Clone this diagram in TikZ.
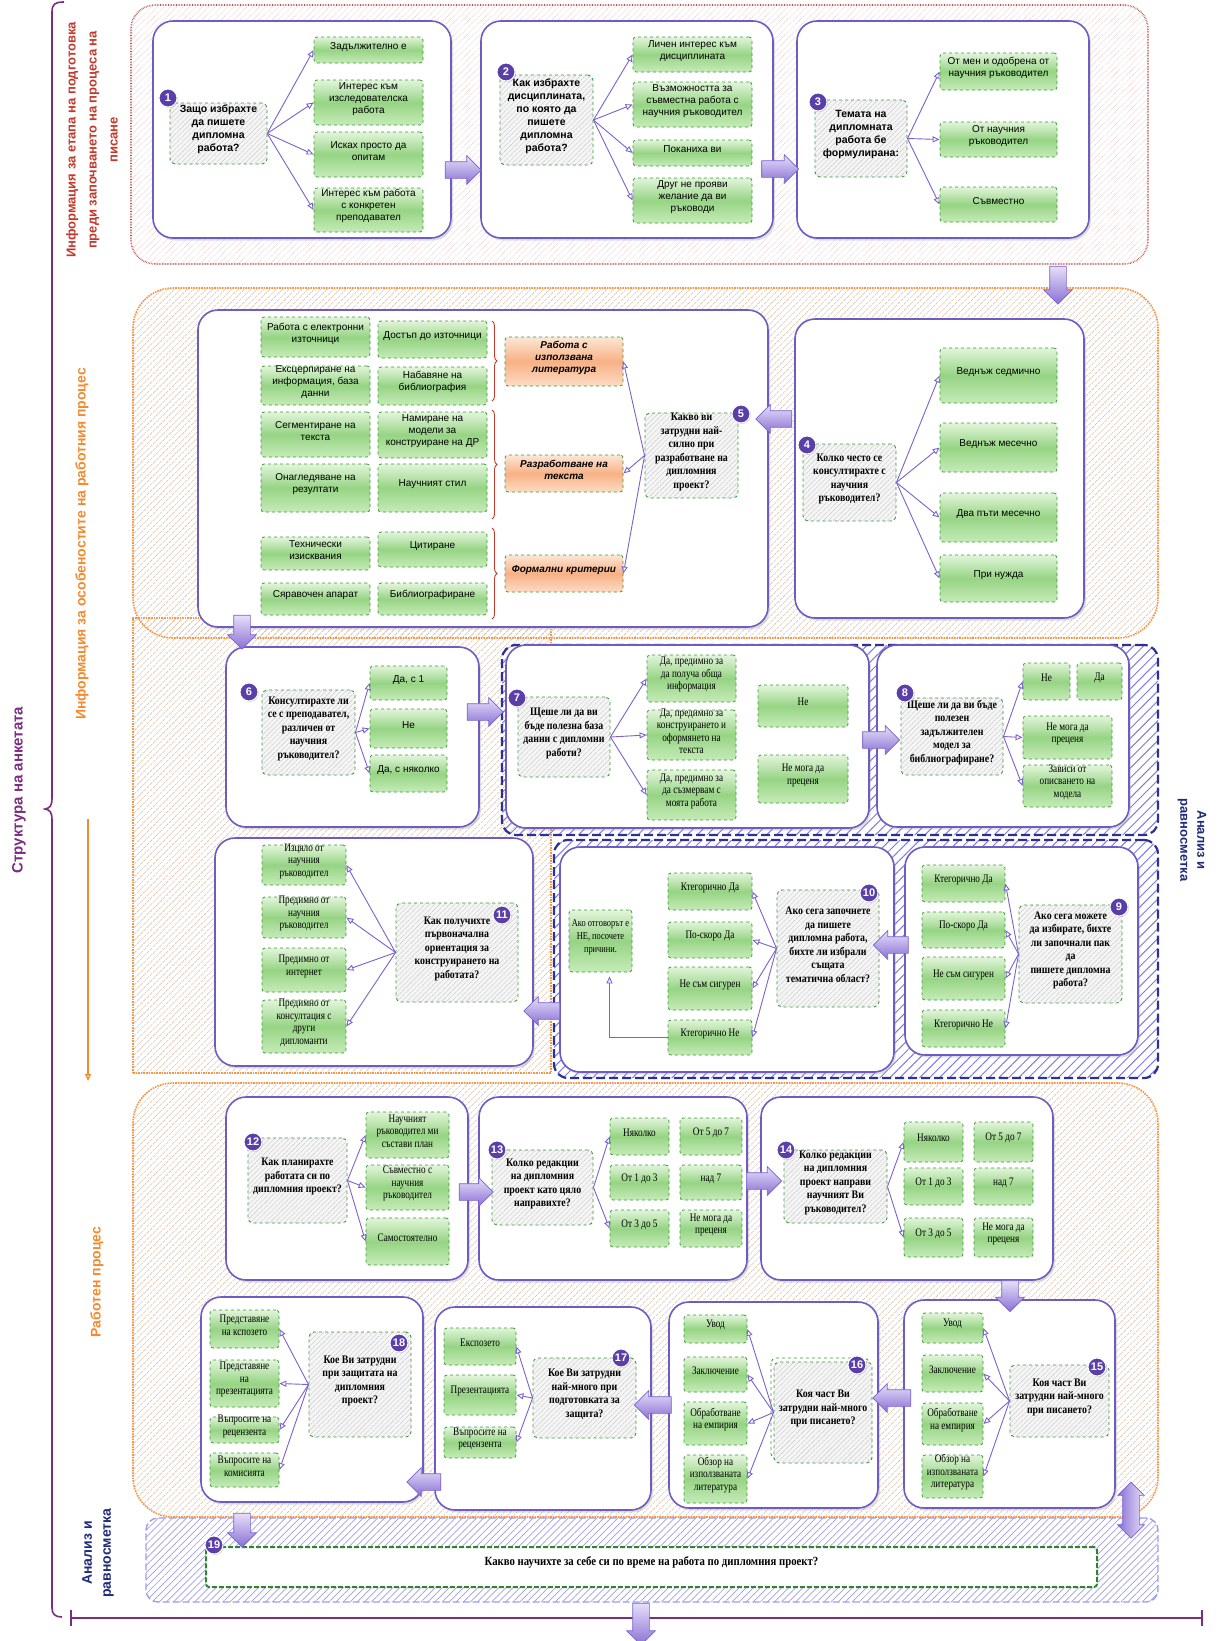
\documentclass[tikz,border=0pt]{standalone}
\usepackage{fontspec}
\setmainfont{Liberation Serif}
\setsansfont{Liberation Sans}
\newfontfamily\nserif{Liberation Serif}[FakeStretch=0.86]
\newfontfamily\cserif{Liberation Serif}[FakeStretch=0.8]
\usetikzlibrary{arrows.meta,shapes.arrows,patterns.meta,fit,shadows,decorations.pathreplacing}
\definecolor{boxpurple}{HTML}{6E5CC4}
\definecolor{arrpurple}{HTML}{7A62D0}
\definecolor{brpurple}{HTML}{7B2D7F}
\definecolor{secred}{HTML}{C0504D}
\definecolor{secorange}{HTML}{F79646}
\definecolor{ohatch}{HTML}{DCC0A8}
\definecolor{secblue}{HTML}{2E3192}
\definecolor{hatchblue}{HTML}{5B5BE0}
\definecolor{qgreen}{HTML}{3A9A3A}
\definecolor{gtop}{HTML}{E2F5DA}
\definecolor{gmid}{HTML}{96D484}
\definecolor{gbot}{HTML}{C6EBB8}
\definecolor{otop}{HTML}{FDE6D4}
\definecolor{omid}{HTML}{F7B185}
\definecolor{obot}{HTML}{FCDCC4}
\definecolor{numpurple}{HTML}{5B3FA8}
\definecolor{labred}{HTML}{C0392B}
\definecolor{laborange}{HTML}{F28A30}
\definecolor{labnavy}{HTML}{1F2A7A}
\definecolor{barL}{HTML}{E6DFF9}
\definecolor{barR}{HTML}{8A70D4}
\newcommand{\fsanans}{\sffamily\fontsize{10}{12}\selectfont}
\newcommand{\fsanq}{\sffamily\bfseries\fontsize{10.5}{13}\selectfont}
\newcommand{\fserq}{\nserif\bfseries\fontsize{11.5}{13.5}\selectfont}
\newcommand{\fseran}{\cserif\fontsize{11.5}{12.5}\selectfont}
\newcommand{\forng}{\sffamily\bfseries\itshape\fontsize{10}{12}\selectfont}
\begin{document}
\begin{tikzpicture}[x=1pt,y=-1pt,
  secR/.style={draw=secred, densely dotted, line width=1.6pt, rounded corners=24pt, inner sep=0pt,
     pattern={Lines[angle=45,distance=4.5pt,line width=0.6pt]}, pattern color=secred!35},
  secO/.style={draw=secorange, densely dotted, line width=1.6pt, rounded corners=40pt, inner sep=0pt,
     pattern={Lines[angle=45,distance=4.5pt,line width=0.6pt]}, pattern color=ohatch},
  secB/.style={draw=secblue, dash pattern=on 9pt off 4pt, line width=2.2pt, rounded corners=14pt, inner sep=0pt,
     pattern={Lines[angle=45,distance=7pt,line width=1pt]}, pattern color=hatchblue!80},
  secBB/.style={draw=hatchblue!60, dash pattern=on 7pt off 3pt, line width=1.4pt, rounded corners=12pt, inner sep=0pt,
     pattern={Lines[angle=45,distance=5pt,line width=0.7pt]}, pattern color=hatchblue!60},
  panel/.style={draw=boxpurple, line width=1.6pt, fill=white, rounded corners=20pt, inner sep=0pt,
     drop shadow={shadow xshift=2pt, shadow yshift=-2.5pt, opacity=0.35, fill=gray!70}},
  qbox/.style={draw=qgreen, dashed, line width=0.9pt, rounded corners=5pt, inner sep=0pt, align=center,
     preaction={fill=gray!8}, pattern={Lines[angle=45,distance=3.5pt,line width=0.4pt]}, pattern color=gray!45},
  gbox/.style={draw=qgreen, dashed, line width=0.8pt, rounded corners=3pt, inner sep=0pt, align=center,
     top color=gtop, bottom color=gbot, middle color=gmid, font=\fsanans},
  sbox/.style={gbox, font=\fseran},
  obox/.style={draw=qgreen, dashed, line width=0.8pt, rounded corners=3pt, inner sep=0pt, align=center,
     top color=otop, bottom color=obot, middle color=omid, font=\forng},
  num/.style={circle, fill=numpurple, draw=white, line width=1pt, text=white, inner sep=0pt, minimum size=18pt,
     font=\sffamily\bfseries\fontsize{11}{11}\selectfont, drop shadow={opacity=0.3,shadow xshift=1pt,shadow yshift=-1pt}},
  qarr/.style={draw=arrpurple, line width=0.9pt, -{Triangle[open,length=7pt,width=6pt]}},
  barrow/.style={single arrow, single arrow head extend=6pt, inner xsep=0pt, inner ysep=8pt,
     draw=arrpurple, line width=0.7pt, top color=barL, bottom color=barR},
  redbrace/.style={draw=labred, line width=0.9pt, decorate, decoration={brace, amplitude=5pt}},
]
\useasboundingbox (0,0) rectangle (1218,1641);
\fill[white] (0,0) rectangle (1218,1641);

% ---------- sections ----------
\node[secR, fit={(131,5) (1148,264)}] (s1) {};
\node[secO, sharp corners, fit={(133,618) (551,1073)}] (s2b) {};
\node[secO, fit={(133,288) (1158,638)}] (s2) {};
\node[secB, fit={(502,645) (1158,835)}] (s5a) {};
\node[secB, fit={(554,840) (1158,1078)}] (s5b) {};
\node[secO, fit={(133,1083) (1158,1517)}] (s3) {};
\node[secBB, fit={(146,1518) (1158,1602)}] (s4) {};

% ---------- labels ----------
\node[rotate=90, text=labred, align=center, font=\sffamily\bfseries\fontsize{13}{21}\selectfont] (l1) at (92,140)
  {Информация за етапа на подготовка\\преди започването на процеса на\\писане};
\node[rotate=90, text=laborange, font=\sffamily\bfseries\fontsize{14}{16}\selectfont] (l2) at (82,544)
  {Информация за особеностите на работния процес};
\node[rotate=90, text=laborange, font=\sffamily\bfseries\fontsize{14}{16}\selectfont] (l3) at (97,1282)
  {Работен процес};
\node[rotate=90, text=brpurple, font=\sffamily\bfseries\fontsize{15}{17}\selectfont] (l0) at (19,790)
  {Структура на анкетата};
\node[rotate=-90, text=labnavy, align=center, font=\sffamily\bfseries\fontsize{13}{17}\selectfont] (l4) at (1192,840)
  {Анализ и\\равносметка};
\node[rotate=90, text=labnavy, align=center, font=\sffamily\bfseries\fontsize{14}{19}\selectfont] (l5) at (98,1553)
  {Анализ и\\равносметка};

% structure brace
\draw[brpurple, line width=1.6pt] (64,2) .. controls (55,2) and (52,4) .. (52,12) -- (52,798)
  .. controls (52,806) and (50,808) .. (45,809) .. controls (50,810) and (52,812) .. (52,820) -- (52,1608)
  .. controls (52,1614) and (55,1617) .. (62,1617);
\coordinate (bl) at (70,1618);
\coordinate (br) at (1203,1618);
\draw[brpurple, line width=2pt, {Bar[width=16pt]}-{Bar[width=16pt]}] (bl) -- (br);
\coordinate (oa1) at (88,819);
\coordinate (oa2) at (88,1081);
\draw[laborange, line width=1.3pt, -{Triangle[open,length=7pt,width=6pt]}] (oa1) -- (oa2);

% ---------- panels ----------
\node[panel, fit={(153,21) (451,238)}] (pA) {};
\node[panel, fit={(481,21) (773,238)}] (pB) {};
\node[panel, fit={(797,21) (1089,238)}] (pC) {};
\node[panel, fit={(198,310) (768,627)}] (pD) {};
\node[panel, fit={(795,319) (1084,618)}] (pE) {};
\node[panel, fit={(226,647) (479,827)}] (pF) {};
\node[panel, fit={(506,645) (869,828)}] (pG) {};
\node[panel, fit={(877,645) (1129,827)}] (pH) {};
\node[panel, fit={(215,838) (533,1066)}] (pI) {};
\node[panel, fit={(560,847) (894,1072)}] (pJ) {};
\node[panel, fit={(905,847) (1138,1055)}] (pK) {};
\node[panel, fit={(226,1097) (468,1280)}] (pL) {};
\node[panel, fit={(479,1097) (747,1280)}] (pM) {};
\node[panel, fit={(761,1097) (1053,1280)}] (pN) {};
\node[panel, fit={(904,1300) (1115,1508)}] (pO) {};
\node[panel, fit={(669,1302) (878,1508)}] (pP) {};
\node[panel, fit={(435,1307) (651,1510)}] (pQ) {};
\node[panel, fit={(201,1297) (423,1502)}] (pR) {};

% ---------- Q1 ----------
\node[qbox, font=\fsanq, fit={(170,103) (267,164)}] (q1) {Защо избрахте\\да пишете\\дипломна\\работа?};
\node[gbox, fit={(314,37) (423,63)}] (a1a) {Задължително е};
\node[gbox, fit={(314,80) (423,125)}] (a1b) {Интерес към\\изследователска\\работа};
\node[gbox, fit={(314,132) (423,177)}] (a1c) {Исках просто да\\опитам};
\node[gbox, fit={(314,188) (423,232)}] (a1d) {Интерес към работа\\с конкретен\\преподавател};
\foreach \t in {a1a,a1b,a1c,a1d} \draw[qarr] (q1.east) -- (\t.west);
\node[num] (n1) at (168,98) {1};

% ---------- Q2 ----------
\node[qbox, font=\fsanq, fit={(500,75) (593,165)}] (q2) {Как избрахте\\дисциплината,\\по която да\\пишете\\дипломна\\работа?};
\node[gbox, fit={(633,37) (752,72)}] (a2a) {Личен интерес към\\дисциплината};
\node[gbox, fit={(633,82) (752,127)}] (a2b) {Възможността за\\съвместна работа с\\научния ръководител};
\node[gbox, fit={(633,140) (752,166)}] (a2c) {Поканиха ви};
\node[gbox, fit={(633,178) (752,223)}] (a2d) {Друг не прояви\\желание да ви\\ръководи};
\foreach \t in {a2a,a2b,a2c,a2d} \draw[qarr] (q2.east) -- (\t.west);
\node[num] (n2) at (506,72) {2};

% ---------- Q3 ----------
\node[qbox, font=\fsanq, fit={(815,100) (907,177)}] (q3) {Темата на\\дипломната\\работа бе\\формулирана:};
\node[gbox, fit={(940,53) (1057,90)}] (a3a) {От мен и одобрена от\\научния ръководител};
\node[gbox, fit={(940,122) (1057,157)}] (a3b) {От научния\\ръководител};
\node[gbox, fit={(940,187) (1057,222)}] (a3c) {Съвместно};
\foreach \t in {a3a,a3b,a3c} \draw[qarr] (q3.east) -- (\t.west);
\node[num] (n3) at (818,102) {3};

% ---------- Section 2 grid ----------
\node[gbox, fit={(261,317) (370,357)}] (g11) {Работа с електронни\\източници};
\node[gbox, fit={(378,321) (487,358)}] (g12) {Достъп до източници};
\node[gbox, fit={(261,366) (370,405)}] (g21) {Ексцерпиране на\\информация, база\\данни};
\node[gbox, fit={(378,367) (487,405)}] (g22) {Набавяне на\\библиография};
\node[gbox, fit={(261,412) (370,457)}] (g31) {Сегментиране на\\текста};
\node[gbox, fit={(378,412) (487,458)}] (g32) {Намиране на\\модели за\\конструиране на ДР};
\node[gbox, fit={(261,464) (370,512)}] (g41) {Онагледяване на\\резултати};
\node[gbox, fit={(378,464) (487,512)}] (g42) {Научният стил};
\node[gbox, fit={(261,537) (370,570)}] (g51) {Технически\\изисквания};
\node[gbox, fit={(378,532) (487,567)}] (g52) {Цитиране};
\node[gbox, fit={(261,583) (370,615)}] (g61) {Сяравочен апарат};
\node[gbox, fit={(378,583) (487,615)}] (g62) {Библиографиране};
\draw[redbrace] (492,321) -- (492,401);
\draw[redbrace] (492,410) -- (492,519);
\draw[redbrace] (492,528) -- (492,619);
\node[obox, fit={(505,337) (623,386)}] (o1) {Работа с\\използвана\\литература};
\node[obox, fit={(505,455) (623,492)}] (o2) {Разработване на\\текста};
\node[obox, fit={(505,555) (623,592)}] (o3) {Формални критерии};
\node[qbox, font=\fserq, fit={(645,413) (738,498)}] (q5) {Какво ви\\затрудни най-\\силно при\\разработване на\\дипломния\\проект?};
\foreach \t in {o1,o2,o3} \draw[qarr] (q5.west) -- (\t.east);
\node[num] (n5) at (741,414) {5};

% ---------- Q4 ----------
\node[qbox, font=\fserq, fit={(803,444) (896,521)}] (q4) {Колко често се\\консултирахте с\\научния\\ръководител?};
\node[gbox, fit={(940,348) (1057,403)}] (a4a) {Веднъж седмично};
\node[gbox, fit={(940,423) (1057,472)}] (a4b) {Веднъж месечно};
\node[gbox, fit={(940,493) (1057,542)}] (a4c) {Два пъти месечно};
\node[gbox, fit={(940,555) (1057,602)}] (a4d) {При нужда};
\foreach \t in {a4a,a4b,a4c,a4d} \draw[qarr] (q4.east) -- (\t.west);
\node[num] (n4) at (807,445) {4};

% ---------- Q6 ----------
\node[qbox, font=\fserq, fit={(262,690) (355,775)}] (q6) {Консултирахте ли\\се с преподавател,\\различен от\\научния\\ръководител?};
\node[gbox, fit={(370,666) (447,700)}] (a6a) {Да, с 1};
\node[gbox, fit={(370,709) (447,748)}] (a6b) {Не};
\node[gbox, fit={(370,755) (447,792)}] (a6c) {Да, с няколко};
\foreach \t in {a6a,a6b,a6c} \draw[qarr] (q6.east) -- (\t.west);
\node[num] (n6) at (249,692) {6};

% ---------- Q7 ----------
\node[qbox, font=\fserq, fit={(518,697) (610,777)}] (q7) {Щеше ли да ви\\бъде полезна база\\данни с дипломни\\работи?};
\node[sbox, fit={(647,655) (736,702)}] (a7a) {Да, предимно за\\да получа обща\\информация};
\node[sbox, fit={(647,710) (736,760)}] (a7b) {Да, предимно за\\конструирането и\\оформянето на\\текста};
\node[sbox, fit={(647,770) (736,820)}] (a7c) {Да, предимно за\\да съзмервам с\\моята работа};
\node[sbox, fit={(758,685) (848,727)}] (a7d) {Не};
\node[sbox, fit={(758,755) (848,803)}] (a7e) {Не мога да\\преценя};
\foreach \t in {a7a,a7b,a7c} \draw[qarr] (q7.east) -- (\t.west);
\node[num] (n7) at (517,698) {7};

% ---------- Q8 ----------
\node[qbox, font=\fserq, fit={(901,698) (1003,775)}] (q8) {Щеше ли да ви бъде\\полезен\\задължителен\\модел за\\библиографиране?};
\node[sbox, fit={(1023,663) (1070,700)}] (a8a) {Не};
\node[sbox, fit={(1077,663) (1122,700)}] (a8b) {Да};
\node[sbox, fit={(1023,716) (1112,759)}] (a8c) {Не мога да\\преценя};
\node[sbox, fit={(1023,765) (1112,807)}] (a8d) {Зависи от\\описването на\\модела};
\foreach \t in {a8a,a8c,a8d} \draw[qarr] (q8.east) -- (\t.west);
\node[num] (n8) at (905,693) {8};

% ---------- Q9 ----------
\node[qbox, font=\fserq, fit={(1019,905) (1122,1003)}] (q9) {Ако сега можете\\да избирате, бихте\\ли започнали пак\\да\\пишете дипломна\\работа?};
\node[sbox, fit={(922,865) (1005,902)}] (a9a) {Ктегорично Да};
\node[sbox, fit={(922,912) (1005,948)}] (a9b) {По-скоро Да};
\node[sbox, fit={(922,957) (1005,1000)}] (a9c) {Не съм сигурен};
\node[sbox, fit={(922,1010) (1005,1047)}] (a9d) {Ктегорично Не};
\foreach \t in {a9a,a9b,a9c,a9d} \draw[qarr] (q9.west) -- (\t.east);
\node[num] (n9) at (1119,907) {9};

% ---------- Q10 ----------
\node[qbox, font=\fserq, fit={(777,890) (879,1007)}] (q10) {Ако сега започнете\\да пишете\\дипломна работа,\\бихте ли избрали\\същата\\тематична област?};
\node[sbox, fit={(668,873) (752,910)}] (a10a) {Ктегорично Да};
\node[sbox, fit={(668,922) (752,958)}] (a10b) {По-скоро Да};
\node[sbox, fit={(668,967) (752,1010)}] (a10c) {Не съм сигурен};
\node[sbox, fit={(668,1020) (752,1055)}] (a10d) {Ктегорично Не};
\node[sbox, font=\cserif\fontsize{10.5}{13}\selectfont, fit={(569,910) (632,972)}] (ako) {Ако отговорът е\\НЕ, посочете\\причини.};
\foreach \t in {a10a,a10b,a10c,a10d} \draw[qarr] (q10.west) -- (\t.east);
\draw[qarr] (a10d.west) -| ([xshift=9pt,yshift=-4pt]ako.south);
\node[num] (n10) at (869,893) {10};

% ---------- Q11 ----------
\node[qbox, font=\fserq, fit={(396,903) (518,1002)}] (q11) {Как получихте\\първоначална\\ориентация за\\конструирането на\\работата?};
\node[sbox, fit={(262,845) (346,885)}] (a11a) {Изцяло от\\научния\\ръководител};
\node[sbox, fit={(262,897) (346,938)}] (a11b) {Предимно от\\научния\\ръководител};
\node[sbox, fit={(262,948) (346,992)}] (a11c) {Предимно от\\интернет};
\node[sbox, fit={(262,1000) (346,1053)}] (a11d) {Предимно от\\консултация с\\други\\дипломанти};
\foreach \t in {a11a,a11b,a11c,a11d} \draw[qarr] (q11.west) -- (\t.east);
\node[num] (n11) at (502,915) {11};

% ---------- Q12 ----------
\node[qbox, font=\fserq, fit={(248,1138) (347,1223)}] (q12) {Как планирахте\\работата си по\\дипломния проект?};
\node[sbox, fit={(366,1112) (449,1158)}] (a12a) {Научният\\ръководител ми\\състави план};
\node[sbox, fit={(366,1165) (449,1210)}] (a12b) {Съвместно с\\научния\\ръководител};
\node[sbox, fit={(366,1218) (449,1265)}] (a12c) {Самостоятелно};
\foreach \t in {a12a,a12b,a12c} \draw[qarr] (q12.east) -- (\t.west);
\node[num] (n12) at (253,1142) {12};

% ---------- Q13 ----------
\node[qbox, font=\fserq, fit={(492,1150) (593,1225)}] (q13) {Колко редакции\\на дипломния\\проект като цяло\\направихте?};
\node[sbox, fit={(610,1118) (669,1155)}] (a13a) {Няколко};
\node[sbox, fit={(680,1118) (742,1155)}] (a13b) {От 5 до 7};
\node[sbox, fit={(610,1165) (669,1200)}] (a13c) {От 1 до 3};
\node[sbox, fit={(680,1165) (742,1200)}] (a13d) {над 7};
\node[sbox, fit={(610,1210) (669,1247)}] (a13e) {От 3 до 5};
\node[sbox, fit={(680,1210) (742,1247)}] (a13f) {Не мога да\\преценя};
\foreach \t in {a13a,a13e} \draw[qarr] (q13.east) -- (\t.west);
\node[num] (n13) at (497,1150) {13};

% ---------- Q14 ----------
\node[qbox, font=\fserq, fit={(784,1150) (887,1223)}] (q14) {Колко редакции\\на дипломния\\проект направи\\научният Ви\\ръководител?};
\node[sbox, fit={(904,1122) (963,1162)}] (a14a) {Няколко};
\node[sbox, fit={(974,1122) (1033,1162)}] (a14b) {От 5 до 7};
\node[sbox, fit={(904,1168) (963,1205)}] (a14c) {От 1 до 3};
\node[sbox, fit={(974,1168) (1033,1205)}] (a14d) {над 7};
\node[sbox, fit={(904,1218) (963,1257)}] (a14e) {От 3 до 5};
\node[sbox, fit={(974,1218) (1033,1257)}] (a14f) {Не мога да\\преценя};
\foreach \t in {a14a,a14e} \draw[qarr] (q14.east) -- (\t.west);
\node[num] (n14) at (786,1150) {14};

% ---------- Q15 ----------
\node[qbox, font=\fserq, fit={(1010,1365) (1109,1437)}] (q15) {Коя част Ви\\затрудни най-много\\при писането?};
\node[sbox, fit={(922,1313) (983,1343)}] (a15a) {Увод};
\node[sbox, fit={(922,1355) (983,1392)}] (a15b) {Заключение};
\node[sbox, fit={(922,1403) (983,1445)}] (a15c) {Обработване\\на емпирия};
\node[sbox, fit={(922,1455) (983,1498)}] (a15d) {Обзор на\\използваната\\литература};
\foreach \t in {a15a,a15b,a15c,a15d} \draw[qarr] (q15.west) -- (\t.east);
\node[num] (n15) at (1097,1367) {15};

% ---------- Q16 ----------
\draw[qgreen, dashed, line width=0.9pt, rounded corners=5pt] (771,1358) rectangle (869,1459);
\node[qbox, font=\fserq, fit={(774,1362) (872,1463)}] (q16) {Коя част Ви\\затрудни най-много\\при писането?};
\node[sbox, fit={(684,1315) (747,1343)}] (a16a) {Увод};
\node[sbox, fit={(684,1357) (747,1392)}] (a16b) {Заключение};
\node[sbox, fit={(684,1402) (747,1445)}] (a16c) {Обработване\\на емпирия};
\node[sbox, fit={(684,1455) (747,1503)}] (a16d) {Обзор на\\използваната\\литература};
\foreach \t in {a16a,a16b,a16c,a16d} \draw[qarr] (q16.west) -- (\t.east);
\node[num] (n16) at (857,1365) {16};

% ---------- Q17 ----------
\node[qbox, font=\fserq, fit={(533,1358) (636,1438)}] (q17) {Кое Ви затрудни\\най-много при\\подготовката за\\защита?};
\node[sbox, fit={(444,1328) (516,1365)}] (a17a) {Експозето};
\node[sbox, fit={(444,1375) (516,1415)}] (a17b) {Презентацията};
\node[sbox, fit={(444,1427) (516,1458)}] (a17c) {Въпросите на\\рецензента};
\foreach \t in {a17a,a17b,a17c} \draw[qarr] (q17.west) -- (\t.east);
\node[num] (n17) at (621,1358) {17};

% ---------- Q18 ----------
\node[qbox, font=\fserq, fit={(309,1332) (411,1437)}] (q18) {Кое Ви затрудни\\при защитата на\\дипломния\\проект?};
\node[sbox, fit={(210,1310) (279,1348)}] (a18a) {Представяне\\на кспозето};
\node[sbox, fit={(210,1360) (279,1407)}] (a18b) {Представяне\\на\\презентацията};
\node[sbox, fit={(210,1417) (279,1443)}] (a18c) {Въпросите на\\рецензента};
\node[sbox, fit={(210,1453) (279,1487)}] (a18d) {Въпросите на\\комисията};
\foreach \t in {a18a,a18b,a18c,a18d} \draw[qarr] (q18.west) -- (\t.east);
\node[num] (n18) at (399,1343) {18};

% ---------- Q19 ----------
\node[draw=qgreen!85!black, dash pattern=on 5pt off 2pt, line width=2pt, fill=white, rounded corners=3pt, inner sep=0pt,
  font=\nserif\bfseries\fontsize{12.5}{14}\selectfont, fit={(206,1547) (1097,1587)}] (q19)
  {Какво научихте за себе си по време на работа по дипломния проект?};
\node[num] (n19) at (214,1545) {19};

% ---------- block arrows ----------
\node[barrow, minimum height=36pt] (ba1) at (459,170) {};
\node[barrow, minimum height=37pt] (ba2) at (776,169) {};
\node[barrow, minimum height=38pt, rotate=-90] (ba3) at (1058,281) {};
\node[barrow, minimum height=36pt, rotate=180] (ba4) at (778,419) {};
\node[barrow, minimum height=34pt, rotate=-90] (ba5) at (242,628) {};
\node[barrow, minimum height=36pt] (ba6) at (481,712) {};
\node[barrow, minimum height=37pt] (ba7) at (877,740) {};
\node[barrow, minimum height=36pt, rotate=180] (ba8) at (546,1011) {};
\node[barrow, minimum height=35pt, rotate=180] (ba9) at (895,945) {};
\node[barrow, minimum height=34pt] (ba10) at (472,1192) {};
\node[barrow, minimum height=35pt] (ba11) at (760,1181) {};
\node[barrow, minimum height=31pt, rotate=-90] (ba12) at (1010,1292) {};
\node[barrow, minimum height=38pt, rotate=180] (ba13) at (896,1398) {};
\node[barrow, minimum height=37pt, rotate=180] (ba14) at (657,1405) {};
\node[barrow, minimum height=34pt, rotate=180] (ba15) at (428,1482) {};
\node[barrow, minimum height=34pt, rotate=-90] (ba16) at (242,1526) {};
\node[double arrow, double arrow head extend=5pt, minimum height=56pt, inner xsep=0pt, inner ysep=8pt,
  draw=arrpurple, line width=0.7pt, left color=barR, right color=barL, rotate=90] (ba17) at (1131,1510) {};
\node[barrow, minimum height=42pt, rotate=-90] (ba18) at (641,1620) {};
\end{tikzpicture}
\end{document}
